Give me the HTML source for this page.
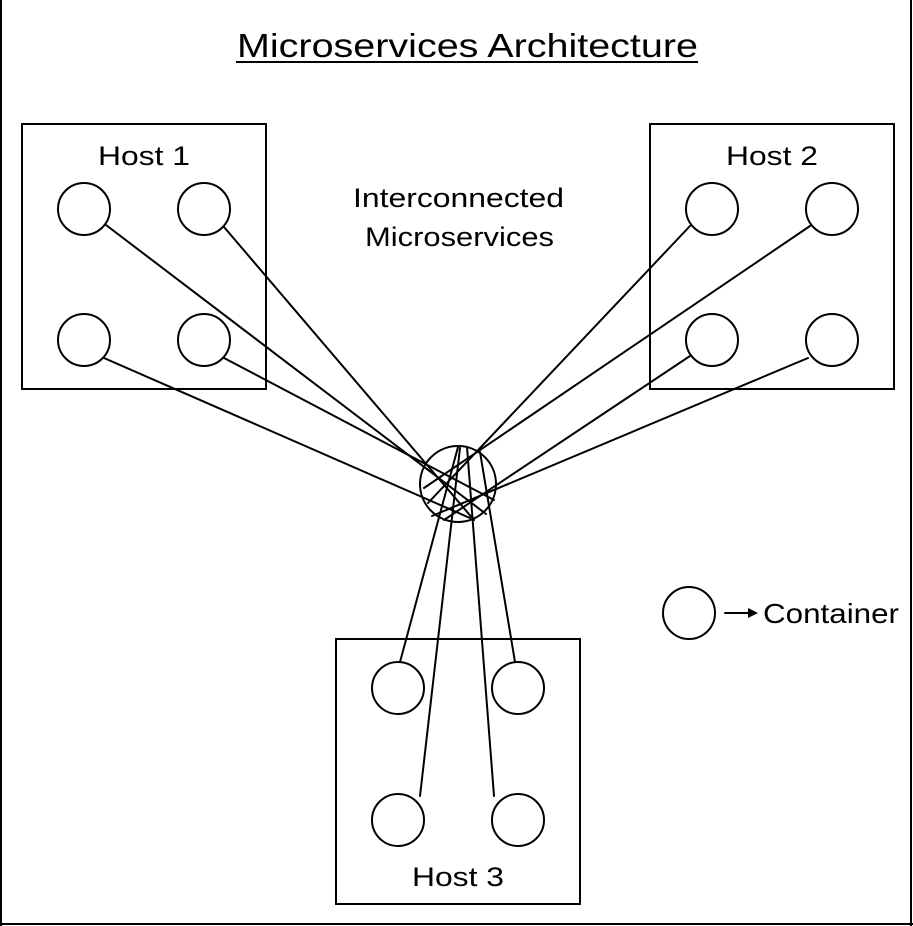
<!DOCTYPE html>
<html><head><meta charset="utf-8"><style>
html,body{margin:0;padding:0;background:#fff;}
svg{display:block;}
text{font-family:"Liberation Sans",sans-serif;fill:#000;}
</style></head><body>
<svg width="913" height="926" viewBox="0 0 913 926" xmlns="http://www.w3.org/2000/svg">
<rect width="913" height="926" fill="#fff"/>
<line x1="1" y1="0" x2="1" y2="926" stroke="#000" stroke-width="2"/>
<line x1="911" y1="0" x2="911" y2="926" stroke="#000" stroke-width="2"/>
<line x1="0" y1="924" x2="913" y2="924" stroke="#000" stroke-width="2"/>
<text x="237" y="57" font-size="33" textLength="461" lengthAdjust="spacingAndGlyphs">Microservices Architecture</text>
<line x1="236" y1="62" x2="698" y2="62" stroke="#000" stroke-width="2"/>
<g fill="none" stroke="#000" stroke-width="2" stroke-linecap="round">
<rect x="22" y="124" width="244" height="265"/>
<rect x="650" y="124" width="244" height="265"/>
<rect x="336" y="639" width="244" height="265"/>
<circle cx="458" cy="484" r="38"/>
<line x1="106" y1="225" x2="486" y2="514"/>
<line x1="224" y1="227" x2="474" y2="520"/>
<line x1="104" y1="358" x2="470" y2="518"/>
<line x1="224" y1="358" x2="494" y2="500"/>
<line x1="690" y1="226" x2="428" y2="503"/>
<line x1="810" y1="226" x2="424" y2="488"/>
<line x1="690" y1="356" x2="444" y2="520"/>
<line x1="808" y1="358" x2="432" y2="516"/>
<line x1="400" y1="662" x2="458" y2="447"/>
<line x1="420" y1="796" x2="460" y2="448"/>
<line x1="494" y1="796" x2="467" y2="447"/>
<line x1="515" y1="662" x2="480" y2="452"/>
<g fill="#fff">
<circle cx="84" cy="209" r="26"/><circle cx="204" cy="209" r="26"/>
<circle cx="84" cy="340" r="26"/><circle cx="204" cy="340" r="26"/>
<circle cx="712" cy="209" r="26"/><circle cx="832" cy="209" r="26"/>
<circle cx="712" cy="340" r="26"/><circle cx="832" cy="340" r="26"/>
<circle cx="398" cy="688" r="26"/><circle cx="518" cy="688" r="26"/>
<circle cx="398" cy="820" r="26"/><circle cx="518" cy="820" r="26"/>
<circle cx="689" cy="613" r="26"/>
</g>
<line x1="725" y1="613" x2="750" y2="613"/>
</g>
<polygon points="758,613 748,608 748,618" fill="#000"/>
<text x="98" y="165" font-size="27" textLength="92" lengthAdjust="spacingAndGlyphs">Host 1</text>
<text x="726" y="165" font-size="27" textLength="92" lengthAdjust="spacingAndGlyphs">Host 2</text>
<text x="412" y="886" font-size="27" textLength="92" lengthAdjust="spacingAndGlyphs">Host 3</text>
<text x="353" y="207" font-size="27" textLength="211" lengthAdjust="spacingAndGlyphs">Interconnected</text>
<text x="365" y="246" font-size="27" textLength="189" lengthAdjust="spacingAndGlyphs">Microservices</text>
<text x="763" y="623" font-size="28" textLength="136" lengthAdjust="spacingAndGlyphs">Container</text>
</svg>
</body></html>
